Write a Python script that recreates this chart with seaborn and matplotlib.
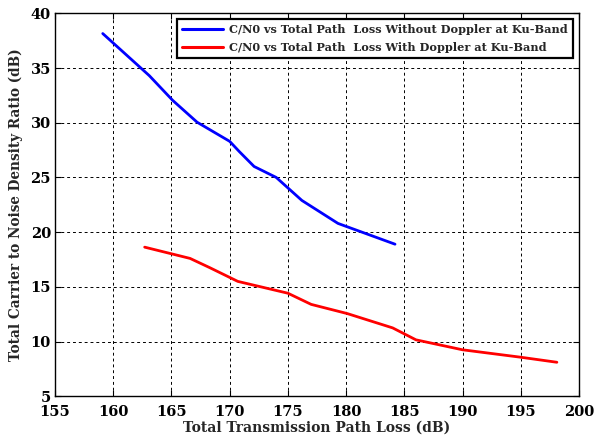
import matplotlib
matplotlib.use("Agg")
import matplotlib.pyplot as plt
import seaborn as sns
import pandas as pd

# Data
loss_no_doppler = [159.1, 163.1, 165.1, 167.2, 170.0, 170.84, 172.1, 174.0, 176.2, 179.3, 184.2]
cn0_no_doppler = [38.15, 34.3, 32.05, 30.05, 28.3, 27.35, 26.0, 25.0, 22.9, 20.8, 18.9]

loss_doppler = [162.7, 166.6, 168.3, 170.7, 175.0, 177.0, 180.1, 184.0, 186.0, 190.0, 195.0, 198.1]
cn0_doppler = [18.63, 17.6, 16.75, 15.5, 14.42, 13.4, 12.56, 11.25, 10.16, 9.25, 8.57, 8.11]

label_no = "C/N0 vs Total Path  Loss Without Doppler at Ku-Band"
label_yes = "C/N0 vs Total Path  Loss With Doppler at Ku-Band"

x_ticks = [155, 160, 165, 170, 175, 180, 185, 190, 195, 200]
y_ticks = [5, 10, 15, 20, 25, 30, 35, 40]

df = pd.concat([
    pd.DataFrame({"loss": loss_no_doppler, "cn0": cn0_no_doppler, "series": label_no}),
    pd.DataFrame({"loss": loss_doppler, "cn0": cn0_doppler, "series": label_yes}),
], ignore_index=True)

sns.set_theme(style="white")
plt.rcParams["font.family"] = ["DejaVu Serif"]
plt.rcParams["font.weight"] = "bold"

fig = plt.figure(figsize=(5.94, 4.36), dpi=100)
ax = fig.add_axes([55/594, 1-396.3/436, (579-55)/594, (396.3-13.3)/436])

sns.lineplot(data=df, x="loss", y="cn0", hue="series", sort=False,
             palette={label_no: "#0000ff", label_yes: "#ff0000"},
             linewidth=2.0, ax=ax, estimator=None)

ax.set_xlim(155, 200)
ax.set_ylim(5, 40)
ax.set_xticks(x_ticks)
ax.set_yticks(y_ticks)
ax.set_xticklabels([str(t) for t in x_ticks], fontsize=10.5, fontweight="bold")
ax.set_yticklabels([str(t) for t in y_ticks], fontsize=10.5, fontweight="bold")
ax.tick_params(direction="in", length=4, width=0.8, top=True, right=True,
               bottom=True, left=True, colors="black")
ax.tick_params(axis="x", pad=6.3)
ax.tick_params(axis="y", pad=3)
ax.grid(True, color="black", linestyle=(0, (3, 3)), linewidth=0.7)

ax.set_xlabel("Total Transmission Path Loss (dB)", fontsize=10, fontweight="bold", labelpad=1)
ax.set_ylabel("Total Carrier to Noise Density Ratio (dB)", fontsize=9.8, fontweight="bold", labelpad=5)

for s in ax.spines.values():
    s.set_color("black")
    s.set_linewidth(1.0)

leg = ax.legend(loc="upper right", bbox_to_anchor=(0.9885, 0.985), borderaxespad=0,
                fancybox=False, frameon=True, handlelength=3.6,
                prop={"weight": "bold", "size": 8.1}, labelspacing=0.65,
                borderpad=0.45, handletextpad=0.55)
leg.get_frame().set_edgecolor("black")
leg.get_frame().set_linewidth(1.6)
leg.get_frame().set_alpha(1)
for line in leg.get_lines():
    line.set_linewidth(2.2)

fig.savefig("out.png", dpi=100)
